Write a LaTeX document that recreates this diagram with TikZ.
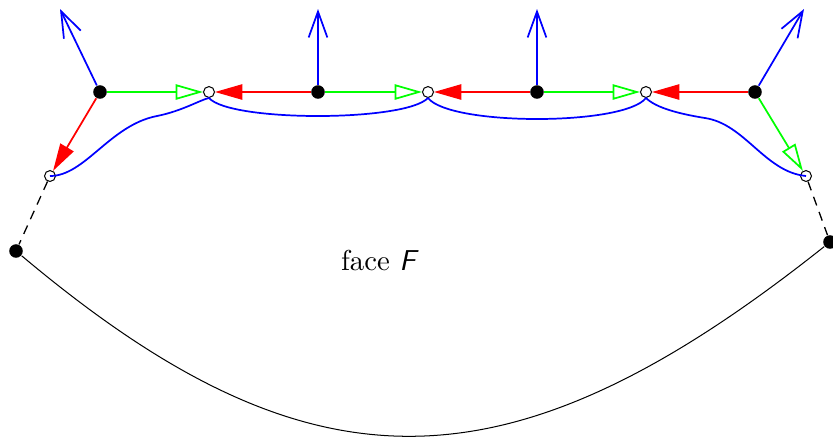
\documentclass[tikz,border=0pt]{standalone}
\usepackage{amsmath}
\usetikzlibrary{arrows.meta}
\begin{document}
\begin{tikzpicture}[x=0.0122cm, y=-0.0122cm,
    vertex/.style={circle, fill=black, inner sep=0pt, minimum size=4.7pt},
    hole/.style={circle, draw=black, fill=white, inner sep=0pt, minimum size=3.8pt, line width=0.35pt},
    up/.style={blue, line width=0.6pt, -{Straight Barb[length=9pt,width=6.5pt]}},
    fwd/.style={green, line width=0.6pt, -{Triangle[open,length=9.5pt,width=5.3pt]}},
    bwd/.style={red, line width=0.6pt, -{Triangle[length=9.5pt,width=5.3pt]}},
    trail/.style={blue, line width=0.6pt},
    gap/.style={black, line width=0.45pt, dash pattern=on 3.2pt off 2.4pt}]
      \useasboundingbox (0,0) rectangle (833,436);
      \node[vertex] (A1) at (100,92) {};
      \node[vertex] (A2) at (318,92) {};
      \node[vertex] (A3) at (537,92) {};
      \node[vertex] (A4) at (755,92) {};
      \node[hole] (W1) at (209,92) {};
      \node[hole] (W2) at (428,92) {};
      \node[hole] (W3) at (646,92) {};
      \node[hole] (L) at (50,176) {};
      \node[hole] (R) at (806,176) {};
      \node[vertex] (B1) at (16,251) {};
      \node[vertex] (B2) at (830,242) {};
      \coordinate (U1) at (60,9);
      \coordinate (U2) at (318,9);
      \coordinate (U3) at (537,9);
      \coordinate (U4) at (804,9);
      \node at (380,260) {face \textsf{\slshape F}};
      \draw[up] (A1) -- (U1);
      \draw[up] (A2) -- (U2);
      \draw[up] (A3) -- (U3);
      \draw[up] (A4) -- (U4);
      \draw[fwd] (A1) -- (W1);
      \draw[fwd] (A2) -- (W2);
      \draw[fwd] (A3) -- (W3);
      \draw[fwd] (A4) -- (R);
      \draw[bwd] (A1) -- (L);
      \draw[bwd] (A2) -- (W1);
      \draw[bwd] (A3) -- (W2);
      \draw[bwd] (A4) -- (W3);
      \draw[trail] (L.center) .. controls (85,176) and (110,125) .. (157,116)
        .. controls (182,111) and (200,100) .. (W1.south);
      \draw[trail] (W1.south) .. controls (230,122) and (405,122) .. (W2.south);
      \draw[trail] (W2.south) .. controls (450,126) and (624,126) .. (W3.south);
      \draw[trail] (W3.south) .. controls (656,108) and (680,114) .. (705,118)
        .. controls (745,124) and (765,172) .. (R.center);
      \draw[gap] (L) -- (B1);
      \draw[gap] (R) -- (B2);
      \draw[line width=0.35pt] (B1) .. controls (310,498) and (508,498) .. (B2);
\end{tikzpicture}
\end{document}
